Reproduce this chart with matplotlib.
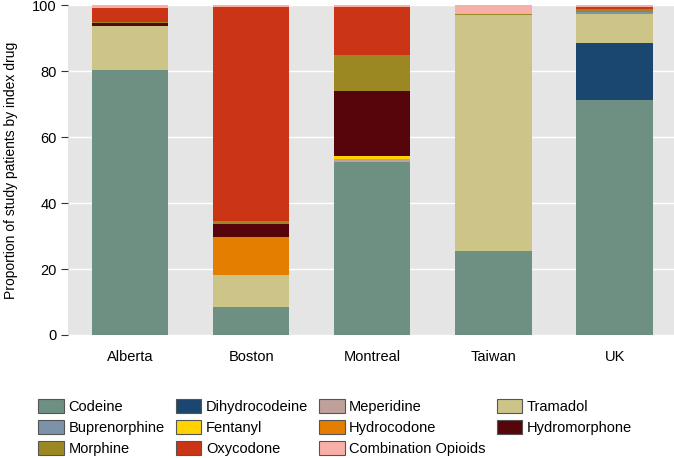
import matplotlib
matplotlib.use("Agg")
import matplotlib.pyplot as plt
import matplotlib.patches as mpatches
import numpy as np

plt.rcParams["font.family"] = ["Liberation Sans", "DejaVu Sans"]

# ── Data (percent of study patients by index drug) ─────────────────────────
sites = ["Alberta", "Boston", "Montreal", "Taiwan", "UK"]

codeine        = [80.5,  8.4, 52.4, 25.5, 71.4]
dihydrocodeine = [ 0.0,  0.0,  0.0,  0.0, 17.3]
meperidine     = [ 0.0,  0.0,  1.1,  0.0,  0.0]
tramadol       = [13.4,  9.9,  0.0, 71.6,  8.7]
buprenorphine  = [ 0.0,  0.0,  0.0,  0.0,  0.6]
fentanyl       = [ 0.0,  0.0,  0.7,  0.0,  0.0]
hydrocodone    = [ 0.0, 11.4,  0.0,  0.0,  0.0]
hydromorphone  = [ 0.9,  4.1, 19.7,  0.0,  0.0]
morphine       = [ 0.3,  0.8, 11.2,  0.3,  1.0]
oxycodone      = [ 4.0, 64.9, 14.5,  0.0,  0.5]
combination    = [ 0.9,  0.5,  0.4,  2.6,  0.5]

series = [
    ("Codeine",             codeine,        "#6E9083"),
    ("Dihydrocodeine",      dihydrocodeine, "#1A476F"),
    ("Meperidine",          meperidine,     "#BFA19C"),
    ("Tramadol",            tramadol,       "#CDC587"),
    ("Buprenorphine",       buprenorphine,  "#7B92A8"),
    ("Fentanyl",            fentanyl,       "#FFD200"),
    ("Hydrocodone",         hydrocodone,    "#E37E00"),
    ("Hydromorphone",       hydromorphone,  "#56050A"),
    ("Morphine",            morphine,       "#9C8822"),
    ("Oxycodone",           oxycodone,      "#CB3414"),
    ("Combination Opioids", combination,    "#F8AFA8"),
]

# ── Plot ───────────────────────────────────────────────────────────────────
fig = plt.figure(figsize=(6.74, 4.58), dpi=100)
ax = fig.add_axes([0.101, 0.2686, 0.899, 0.7195])
ax.set_facecolor("#E5E5E5")

x = np.arange(len(sites))
bottom = np.zeros(len(sites))
handles = {}
for name, vals, color in series:
    vals = np.array(vals)
    ax.bar(x, vals, 0.63, bottom=bottom, color=color, linewidth=0, zorder=3)
    bottom += vals
    handles[name] = mpatches.Patch(facecolor=color, edgecolor="#555555",
                                   linewidth=0.8, label=name)

ax.set_xlim(-0.51, 4.49)
ax.set_ylim(0, 100)
ax.set_yticks([0, 20, 40, 60, 80, 100])
ax.yaxis.grid(True, color="white", linewidth=1.0, zorder=0)
ax.set_axisbelow(True)
for s in ax.spines.values():
    s.set_visible(False)
ax.set_xticks(x)
ax.set_xticklabels(sites, fontsize=10.5)
ax.tick_params(axis="x", length=0, pad=11)
ax.tick_params(axis="y", length=5, width=0.8, color="#333333", pad=3, labelsize=10.5)
ax.set_ylabel("Proportion of study patients by index drug", fontsize=10, labelpad=10)

# legend fills row-wise like the original: reorder for matplotlib's column-wise fill
legend_order = ["Codeine", "Buprenorphine", "Morphine",
                "Dihydrocodeine", "Fentanyl", "Oxycodone",
                "Meperidine", "Hydrocodone", "Combination Opioids",
                "Tramadol", "Hydromorphone"]
fig.legend(handles=[handles[n] for n in legend_order], ncol=4,
           loc="upper left", bbox_to_anchor=(0.057, 0.128), frameon=False,
           fontsize=10.5, handlelength=1.77, handleheight=1.1, handletextpad=0.3,
           columnspacing=0.75, labelspacing=0.4, borderaxespad=0, borderpad=0)

fig.savefig("out.png", dpi=100)
